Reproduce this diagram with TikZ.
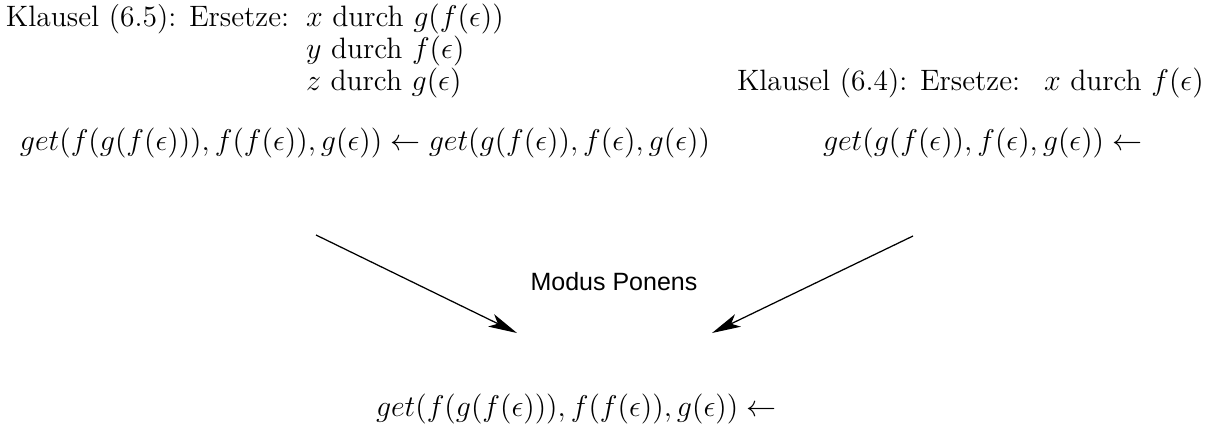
\documentclass[tikz,border=0pt]{standalone}
\usepackage{fontspec}
\newfontfamily\labelsans{Liberation Sans}
\usetikzlibrary{arrows.meta}
\tikzset{
  txt/.style={anchor=base west, inner sep=0pt, outer sep=0pt,
    font=\fontsize{11.8}{14}\selectfont},
  formula/.style={anchor=base west, inner sep=0pt, outer sep=0pt,
    font=\fontsize{11.5}{14}\selectfont},
  rule/.style={draw=black, line width=0.5pt,
    -{Stealth[length=11.5pt, width=5.5pt, inset=3pt]}},
  sanslabel/.style={anchor=center, inner sep=0pt, font=\labelsans}
}
\begin{document}
\begin{tikzpicture}[x=0.4pt, y=-0.4pt]
  \useasboundingbox (0,0) rectangle (1228,427);
  % substitution for clause (6.5)
  \node[txt] (k65)  at (6,26)   {Klausel (6.5): Ersetze:};
  \node[txt] (s65a) at (306,26) {$x$ durch $g(f(\epsilon))$};
  \node[txt] (s65b) at (306,58) {$y$ durch $f(\epsilon)$};
  \node[txt] (s65c) at (306,90) {$z$ durch $g(\epsilon)$};
  % substitution for clause (6.4)
  \node[txt] (k64)  at (737,90) {Klausel (6.4): Ersetze:};
  \node[txt] (s64)  at (1044,90) {$x$ durch $f(\epsilon)$};
  % instantiated clauses
  \node[formula] (c65) at (20,150)
    {$get(f(g(f(\epsilon))),f(f(\epsilon)),g(\epsilon)) \leftarrow get(g(f(\epsilon)),f(\epsilon),g(\epsilon))$};
  \node[formula] (c64) at (823,150)
    {$get(g(f(\epsilon)),f(\epsilon),g(\epsilon)) \leftarrow$};
  % result of the inference
  \node[formula] (res) at (376,416)
    {$get(f(g(f(\epsilon))),f(f(\epsilon)),g(\epsilon)) \leftarrow$};
  % inference step
  \node[sanslabel] (mp) at (614,282) {Modus Ponens};
  \coordinate (a1s) at (316,235);
  \coordinate (a1e) at (517,333);
  \coordinate (a2s) at (913,236);
  \coordinate (a2e) at (712,333);
  \draw[rule] (a1s) -- (a1e);
  \draw[rule] (a2s) -- (a2e);
\end{tikzpicture}
\end{document}
